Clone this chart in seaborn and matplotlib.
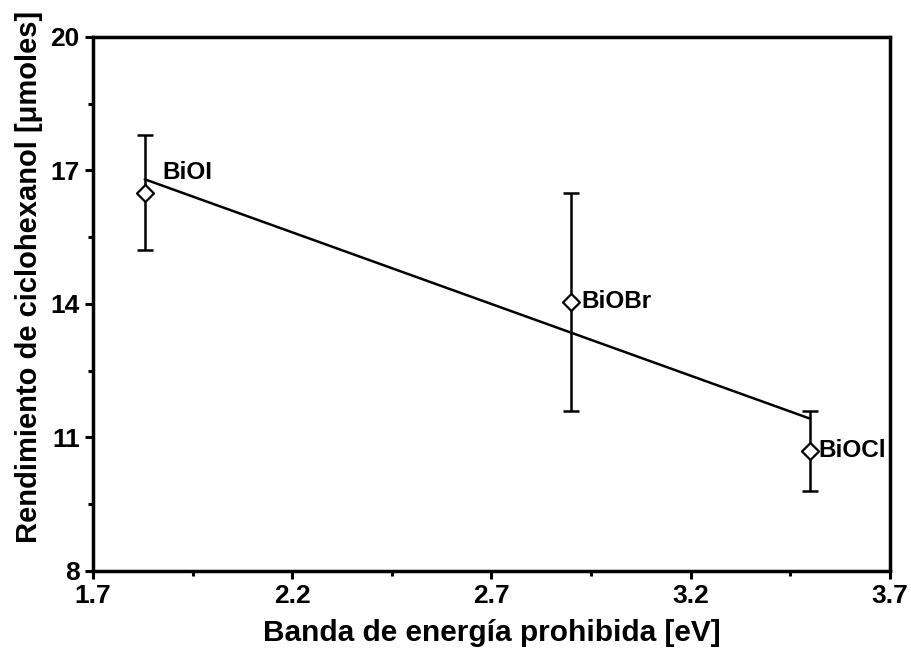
import matplotlib
matplotlib.use("Agg")
import matplotlib.pyplot as plt
import seaborn as sns
import pandas as pd

# data
muestras = ["BiOI", "BiOBr", "BiOCl"]
band_gap = [1.83, 2.90, 3.50]
rendimiento = [16.5, 14.05, 10.7]
error = [1.3, 2.45, 0.9]
# linear fit drawn in the original (end points)
fit_x = [1.83, 3.50]
fit_y = [16.8, 11.42]
x_ticks = [1.7, 2.2, 2.7, 3.2, 3.7]
y_ticks = [8, 11, 14, 17, 20]

df = pd.DataFrame({"muestra": muestras, "eg": band_gap, "rend": rendimiento, "err": error})
df_fit = pd.DataFrame({"eg": fit_x, "rend": fit_y})

sns.set_style("ticks")
plt.rcParams["font.family"] = ["Liberation Sans", "DejaVu Sans"]
plt.rcParams["text.color"] = "black"
plt.rcParams["axes.labelcolor"] = "black"
plt.rcParams["xtick.color"] = "black"
plt.rcParams["ytick.color"] = "black"

fig = plt.figure(figsize=(9.11, 6.53), dpi=100)
ax = fig.add_axes([0.102, 0.1256, 0.875, 0.818])

sns.lineplot(x="eg", y="rend", data=df_fit, color="black", lw=1.8, ax=ax)
ax.errorbar(df["eg"], df["rend"], yerr=df["err"], fmt="none", ecolor="black",
            elinewidth=1.8, capsize=6, capthick=1.8, zorder=3)
sns.scatterplot(x="eg", y="rend", data=df, marker="D", s=75, facecolor="white",
                edgecolor="black", linewidth=1.6, zorder=4, ax=ax)

offsets = {"BiOI": (0.045, 0.45), "BiOBr": (0.025, 0.0), "BiOCl": (0.02, 0.0)}
for m, x, y in zip(muestras, band_gap, rendimiento):
    dx, dy = offsets[m]
    ax.text(x + dx, y + dy, m, fontsize=17.5, fontweight="bold", va="center", ha="left")

ax.set_xlim(1.7, 3.7)
ax.set_ylim(8, 20)
ax.set_xticks(x_ticks)
ax.set_xticklabels([str(t) for t in x_ticks])
ax.set_xticks([1.95, 2.45, 2.95, 3.45], minor=True)
ax.set_yticks(y_ticks)
ax.set_yticklabels([str(t) for t in y_ticks])
ax.set_yticks([9.5, 12.5, 15.5, 18.5], minor=True)
ax.tick_params(which="major", direction="out", length=6, width=2.2)
ax.tick_params(which="minor", direction="out", length=3.5, width=2.2)
for lab in ax.get_yticklabels():
    lab.set_fontweight("bold")
    lab.set_fontsize(19)
for lab in ax.get_xticklabels():
    lab.set_fontweight("bold")
    lab.set_fontsize(19)
for s in ax.spines.values():
    s.set_linewidth(2.5)
    s.set_color("black")

ax.set_xlabel("Banda de energía prohibida [eV]", fontsize=21.5, fontweight="bold", labelpad=8)
ax.set_ylabel("Rendimiento de ciclohexanol [μmoles]", fontsize=21, fontweight="bold")
ax.yaxis.set_label_coords(-0.063, 0.55)

fig.savefig("out.png", dpi=100)
